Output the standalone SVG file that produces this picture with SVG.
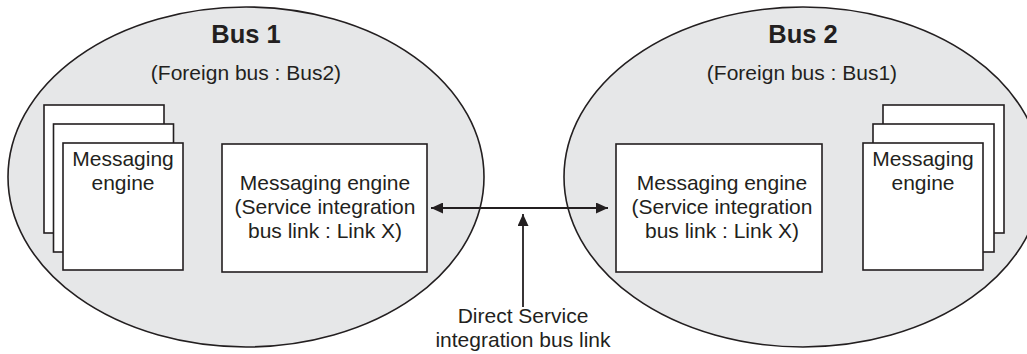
<svg xmlns="http://www.w3.org/2000/svg" width="1027" height="354" viewBox="0 0 1027 354">
<defs>
<style>
.bus{fill:#e6e7e8;stroke:#231f20;stroke-width:1.6}
.box{fill:#ffffff;stroke:#231f20;stroke-width:1.6}
.t{font-family:"Liberation Sans",Arial,sans-serif;font-size:21px;fill:#231f20;text-anchor:middle}
.h{font-family:"Liberation Sans",Arial,sans-serif;font-size:25.5px;font-weight:bold;fill:#231f20;text-anchor:middle}
.ln{stroke:#231f20;stroke-width:1.8;fill:none}
</style>
<marker id="ah" viewBox="0 0 12 11" refX="12" refY="5.5" markerWidth="12" markerHeight="11" markerUnits="userSpaceOnUse" orient="auto-start-reverse">
<path d="M0,0 L12,5.5 L0,11 Z" fill="#231f20"/>
</marker>
</defs>
<rect width="1027" height="354" fill="#ffffff"/>
<g id="bus1">
<ellipse class="bus" cx="246" cy="177" rx="238" ry="170"/>
<text class="h" x="246" y="43">Bus 1</text>
<text class="t" x="246" y="80">(Foreign bus : Bus2)</text>
</g>
<g id="bus2">
<ellipse class="bus" cx="803" cy="177" rx="239" ry="170"/>
<text class="h" x="803" y="43">Bus 2</text>
<text class="t" x="802" y="80">(Foreign bus : Bus1)</text>
</g>
<g id="me-stack-1">
<rect class="box" x="44" y="105" width="120" height="128"/>
<rect class="box" x="53.5" y="124" width="120" height="128"/>
<rect class="box" x="63" y="143" width="120" height="127"/>
<text class="t" x="123" y="166">Messaging</text>
<text class="t" x="123" y="190">engine</text>
</g>
<g id="me-link-1">
<rect class="box" x="222" y="144" width="205" height="128"/>
<text class="t" x="325" y="190">Messaging engine</text>
<text class="t" x="325" y="214">(Service integration</text>
<text class="t" x="325" y="238">bus link : Link X)</text>
</g>
<g id="me-link-2">
<rect class="box" x="616" y="144" width="206" height="128"/>
<text class="t" x="722" y="190">Messaging engine</text>
<text class="t" x="722" y="214">(Service integration</text>
<text class="t" x="722" y="238">bus link : Link X)</text>
</g>
<g id="me-stack-2">
<rect class="box" x="883" y="105" width="121" height="128"/>
<rect class="box" x="873" y="124" width="121" height="128"/>
<rect class="box" x="863" y="143" width="120" height="127"/>
<text class="t" x="923" y="166">Messaging</text>
<text class="t" x="923" y="190">engine</text>
</g>
<g id="connectors">
<line class="ln" x1="431" y1="208" x2="608" y2="208" marker-start="url(#ah)" marker-end="url(#ah)"/>
<line class="ln" x1="523" y1="307" x2="523" y2="214" marker-end="url(#ah)"/>
</g>
<g id="label-direct-link">
<text class="t" x="523" y="323">Direct Service</text>
<text class="t" x="523" y="347">integration bus link</text>
</g>
</svg>
